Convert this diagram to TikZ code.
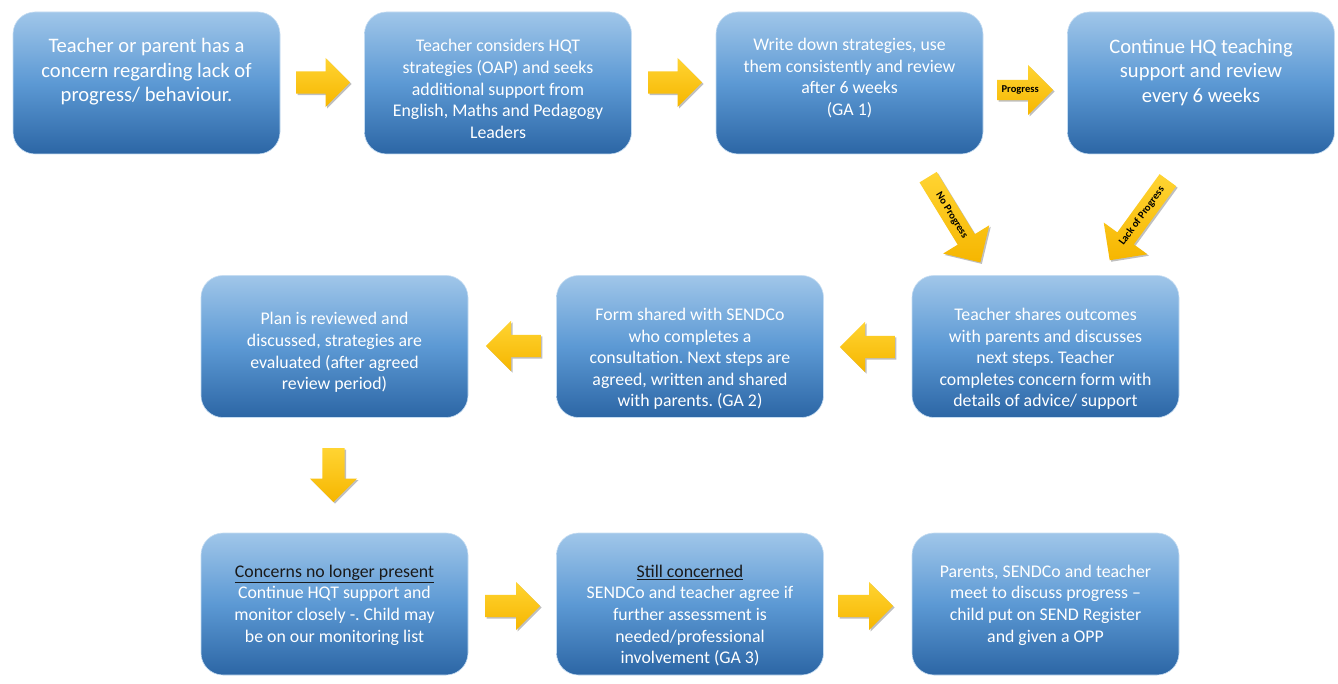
\documentclass[tikz,border=0pt]{standalone}
\usepackage{fontspec}
\setmainfont{Carlito}
\usetikzlibrary{shapes.arrows,shadows}
\definecolor{bTop}{RGB}{160,198,233}
\definecolor{bMid}{RGB}{92,153,212}
\definecolor{bBot}{RGB}{44,102,165}
\definecolor{gTop}{RGB}{255,212,50}
\definecolor{gBot}{RGB}{246,182,0}
\definecolor{headC}{RGB}{25,25,25}
\frenchspacing
\begin{document}
\begin{tikzpicture}[x=1pt,y=-1pt,
  box/.style={rounded corners=22pt, minimum width=267pt, minimum height=142pt,
    top color=bTop, bottom color=bBot, middle color=bMid, draw=bTop!60!white, line width=0.6pt},
  txt/.style={text=white, align=center, inner sep=0pt, font=\fontsize{17.8}{21.6}\selectfont},
  bigtxt/.style={text=white, align=center, inner sep=0pt, font=\fontsize{20.6}{24.5}\selectfont},
  garrow/.style={single arrow, anchor=tail, inner xsep=0pt, inner ysep=11pt, top color=gTop, bottom color=gBot,
    drop shadow={shadow xshift=1.5pt, shadow yshift=-1.5pt, opacity=0.25, fill=black}},
  albl/.style={text=black, font=\bfseries\fontsize{10.5}{12}\selectfont},
]
\useasboundingbox[fill=white] (0,0) rectangle (1338,684);

% boxes
\node[box] (b1) at (146.5,83) {};
\node[box] (b2) at (498,83) {};
\node[box] (b3) at (849.5,83) {};
\node[box] (b4) at (1201,83) {};
\node[box] (b5) at (1045.5,346.5) {};
\node[box] (b6) at (690,346.5) {};
\node[box] (b7) at (334.5,346.5) {};
\node[box] (b8) at (334.5,604) {};
\node[box] (b9) at (690,604) {};
\node[box] (b10) at (1045.5,604) {};

% texts
\node[bigtxt] (t1) at (146.5,72) {Teacher or parent has a\\concern regarding lack of\\progress/ behaviour.};
\node[txt] (t2) at (498,89) {Teacher considers HQT\\strategies (OAP) and seeks\\additional support from\\English, Maths and Pedagogy\\Leaders};
\node[txt] (t3) at (849.5,78) {Write down strategies, use\\them consistently and review\\after 6 weeks\\(GA 1)};
\node[bigtxt] (t4) at (1201,72.5) {Continue HQ teaching\\support and review\\every 6 weeks};
\node[txt] (t5) at (1045.5,359) {Teacher shares outcomes\\with parents and discusses\\next steps. Teacher\\completes concern form with\\details of advice/ support};
\node[txt] (t6) at (690,359) {Form shared with SENDCo\\who completes a\\consultation. Next steps are\\agreed, written and shared\\with parents. (GA 2)};
\node[txt] (t7) at (334.5,352.5) {Plan is reviewed and\\discussed, strategies are\\evaluated (after agreed\\review period)};
\node[txt] (t8) at (334.5,605) {\textcolor{headC}{\underline{Concerns no longer present}}\\Continue HQT support and\\monitor closely -. Child may\\be on our monitoring list};
\node[txt] (t9) at (690,615.5) {\textcolor{headC}{\underline{Still concerned}}\\SENDCo and teacher agree if\\further assessment is\\needed/professional\\involvement (GA 3)};
\node[txt] (t10) at (1045.5,605) {Parents, SENDCo and teacher\\meet to discuss progress –\\child put on SEND Register\\and given a OPP};

% arrows
\node[garrow, minimum height=54pt, minimum width=49pt, single arrow head extend=13.5pt] (a1) at (296,82.5) {};
\node[garrow, minimum height=54pt, minimum width=49pt, single arrow head extend=13.5pt] (a2) at (648,82.5) {};
\node[garrow, inner ysep=5pt, minimum height=56pt, minimum width=50pt, single arrow head extend=14pt, albl] (a3) at (997,90) {Progress};
\node[garrow, inner ysep=5pt, minimum height=100pt, minimum width=54pt, single arrow head extend=16pt, albl, rotate=-58.5] (a4) at (928,177) {No Progress};
\node[garrow, inner ysep=5pt, minimum height=99pt, minimum width=54pt, single arrow head extend=16pt, albl, shape border rotate=180, rotate=54] (a5) at (1168,180) {Lack of Progress};
\node[garrow, minimum height=55pt, minimum width=50pt, single arrow head extend=14pt, shape border rotate=180] (a6) at (895,347) {};
\node[garrow, minimum height=55pt, minimum width=50pt, single arrow head extend=14pt, shape border rotate=180] (a7) at (541,346) {};
\node[garrow, inner xsep=11pt, inner ysep=0pt, minimum height=54pt, minimum width=47pt, single arrow head extend=12.5pt, shape border rotate=270] (a8) at (333.5,448) {};
\node[garrow, minimum height=55pt, minimum width=48pt, single arrow head extend=13pt] (a9) at (485,606) {};
\node[garrow, minimum height=55pt, minimum width=48pt, single arrow head extend=13pt] (a10) at (838,606) {};
\end{tikzpicture}
\end{document}
